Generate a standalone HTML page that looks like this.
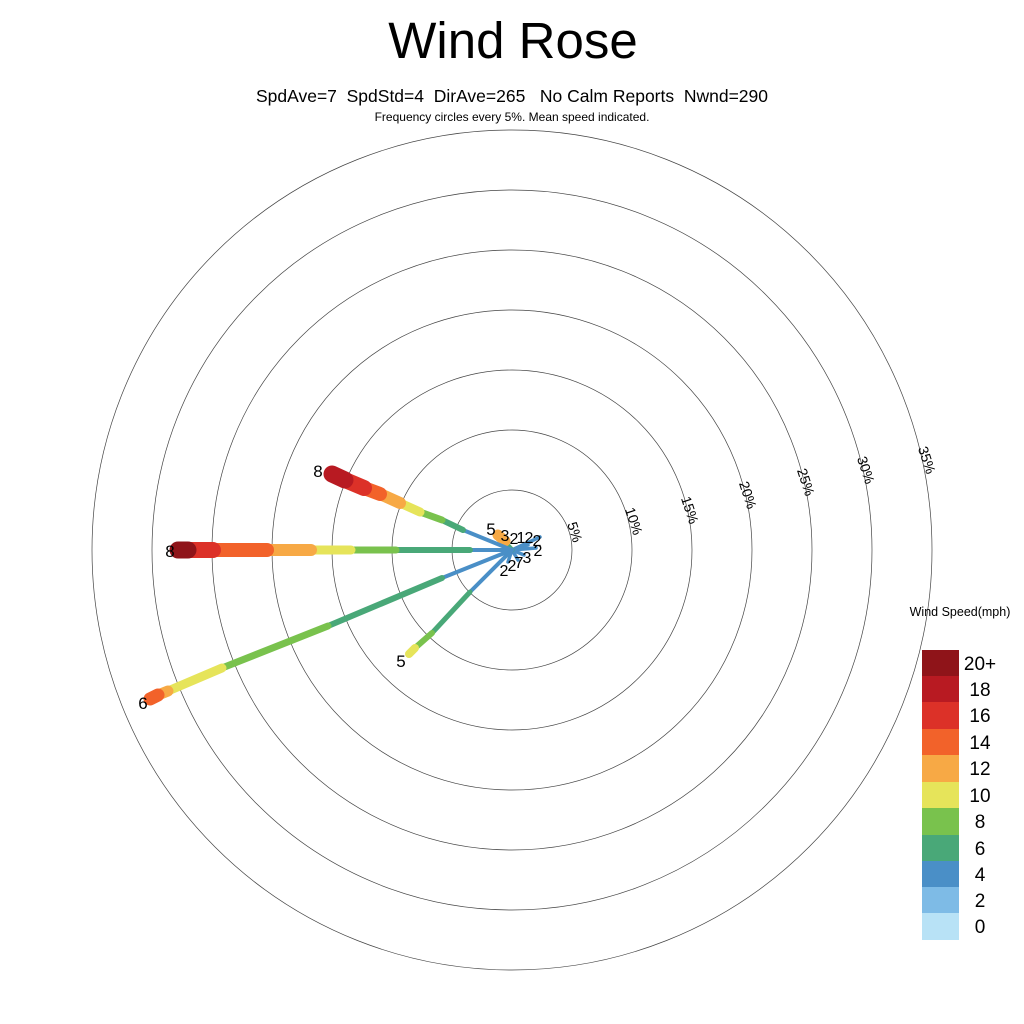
<!DOCTYPE html>
<html><head><meta charset="utf-8"><style>
html,body{margin:0;padding:0;background:#fff;}
svg{display:block;font-family:"Liberation Sans",sans-serif;}
</style></head><body>
<svg width="1024" height="1024" viewBox="0 0 1024 1024" xmlns="http://www.w3.org/2000/svg">
<rect width="1024" height="1024" fill="#fff"/>
<text x="513" y="58" font-size="51" text-anchor="middle">Wind Rose</text>
<text x="512" y="102" font-size="17.5" text-anchor="middle" xml:space="preserve">SpdAve=7  SpdStd=4  DirAve=265   No Calm Reports  Nwnd=290</text>
<text x="512" y="121" font-size="12" text-anchor="middle">Frequency circles every 5%. Mean speed indicated.</text>
<g fill="none" stroke="#444" stroke-width="0.7">
<circle cx="512" cy="550" r="60"/><circle cx="512" cy="550" r="120"/><circle cx="512" cy="550" r="180"/>
<circle cx="512" cy="550" r="240"/><circle cx="512" cy="550" r="300"/><circle cx="512" cy="550" r="360"/><circle cx="512" cy="550" r="420"/>
</g>
<g font-size="14" text-anchor="middle">
<text transform="translate(575,532) rotate(72)" dy="5">5%</text>
<text transform="translate(634,521) rotate(72)" dy="5">10%</text>
<text transform="translate(690,510) rotate(72)" dy="5">15%</text>
<text transform="translate(748,495) rotate(72)" dy="5">20%</text>
<text transform="translate(806,482) rotate(72)" dy="5">25%</text>
<text transform="translate(866,470) rotate(72)" dy="5">30%</text>
<text transform="translate(927,460) rotate(72)" dy="5">35%</text>
</g>
<g stroke-linecap="round" fill="none">
<g stroke="#4a8fc7" stroke-width="3.5">
<line x1="512" y1="550" x2="540" y2="537"/><line x1="512" y1="550" x2="532" y2="541"/>
<line x1="512" y1="550" x2="528" y2="545"/><line x1="512" y1="550" x2="536" y2="548"/>
<line x1="512" y1="550" x2="524" y2="555"/><line x1="512" y1="550" x2="518" y2="560"/>
<line x1="512" y1="550" x2="508" y2="562"/>
</g>
<line x1="512" y1="550" x2="500" y2="537" stroke="#49a878" stroke-width="5"/>
<line x1="505" y1="541" x2="498" y2="535" stroke="#f7a945" stroke-width="11"/>
<!-- West -->
<line x1="512" y1="550" x2="470" y2="550" stroke="#4a8fc7" stroke-width="4"/>
<line x1="470" y1="550" x2="396" y2="550" stroke="#49a878" stroke-width="6"/>
<line x1="396" y1="550" x2="351" y2="550" stroke="#79c24d" stroke-width="7"/>
<line x1="351" y1="550" x2="311" y2="550" stroke="#e6e45a" stroke-width="9"/>
<line x1="311" y1="550" x2="267" y2="550" stroke="#f7a945" stroke-width="12"/>
<line x1="267" y1="550" x2="213" y2="550" stroke="#f2622a" stroke-width="14"/>
<line x1="213" y1="550" x2="188" y2="550" stroke="#dc3128" stroke-width="16"/>
<line x1="188" y1="550" x2="178" y2="550" stroke="#8f1419" stroke-width="17"/>
<!-- WNW -->
<line x1="512" y1="550" x2="463" y2="530" stroke="#4a8fc7" stroke-width="4"/>
<line x1="463" y1="530" x2="442" y2="520" stroke="#49a878" stroke-width="6"/>
<line x1="442" y1="520" x2="420" y2="512" stroke="#79c24d" stroke-width="7"/>
<line x1="420" y1="512" x2="400" y2="503" stroke="#e6e45a" stroke-width="9"/>
<line x1="400" y1="503" x2="380" y2="494" stroke="#f7a945" stroke-width="12"/>
<line x1="380" y1="494" x2="364" y2="488" stroke="#f2622a" stroke-width="14"/>
<line x1="364" y1="488" x2="345" y2="480" stroke="#dc3128" stroke-width="16"/>
<line x1="345" y1="480" x2="332" y2="474" stroke="#b81a22" stroke-width="17"/>
<!-- WSW long -->
<line x1="512" y1="550" x2="442" y2="578" stroke="#4a8fc7" stroke-width="4"/>
<line x1="442" y1="578" x2="328" y2="626" stroke="#49a878" stroke-width="6"/>
<line x1="328" y1="626" x2="222" y2="668" stroke="#79c24d" stroke-width="7"/>
<line x1="222" y1="668" x2="168" y2="691" stroke="#e6e45a" stroke-width="9"/>
<line x1="168" y1="691" x2="158" y2="695" stroke="#f7a945" stroke-width="11"/>
<line x1="158" y1="695" x2="150" y2="699" stroke="#f2622a" stroke-width="13"/>
<!-- SW -->
<line x1="512" y1="550" x2="470" y2="592" stroke="#4a8fc7" stroke-width="4"/>
<line x1="470" y1="592" x2="432" y2="633" stroke="#49a878" stroke-width="5"/>
<line x1="432" y1="633" x2="415" y2="648" stroke="#79c24d" stroke-width="6"/>
<line x1="415" y1="648" x2="409" y2="654" stroke="#e6e45a" stroke-width="8"/>
</g>
<g font-size="17" text-anchor="middle">
<text x="318" y="477">8</text>
<text x="170" y="557">8</text>
<text x="143" y="709">6</text>
<text x="401" y="667">5</text>
<text x="491" y="535">5</text>
<text x="505" y="541" font-size="16">3</text>
<text x="514" y="544" font-size="16">2</text>
<text x="521" y="543" font-size="16">1</text>
<text x="529" y="543" font-size="16">2</text>
<text x="537" y="546" font-size="16">2</text>
<text x="538" y="556" font-size="16">2</text>
<text x="527" y="563" font-size="16">3</text>
<text x="519" y="568" font-size="16">7</text>
<text x="512" y="571" font-size="16">2</text>
<text x="504" y="576" font-size="16">2</text>
</g>
<text x="960" y="616" font-size="12.5" text-anchor="middle">Wind Speed(mph)</text>
<g>
<rect x="922" y="650" width="37" height="26.5" fill="#8f1419"/>
<rect x="922" y="676" width="37" height="26.5" fill="#b81a22"/>
<rect x="922" y="702" width="37" height="27" fill="#dc3128"/>
<rect x="922" y="729" width="37" height="26.5" fill="#f2622a"/>
<rect x="922" y="755" width="37" height="27" fill="#f7a945"/>
<rect x="922" y="782" width="37" height="26.5" fill="#e6e45a"/>
<rect x="922" y="808" width="37" height="27" fill="#79c24d"/>
<rect x="922" y="835" width="37" height="26.5" fill="#49a878"/>
<rect x="922" y="861" width="37" height="26.5" fill="#4a8fc7"/>
<rect x="922" y="887" width="37" height="26.5" fill="#7ebbe6"/>
<rect x="922" y="913" width="37" height="27" fill="#b8e2f6"/>
</g>
<g font-size="19" text-anchor="middle">
<text x="980" y="670">20+</text>
<text x="980" y="696">18</text>
<text x="980" y="722">16</text>
<text x="980" y="749">14</text>
<text x="980" y="775">12</text>
<text x="980" y="802">10</text>
<text x="980" y="828">8</text>
<text x="980" y="855">6</text>
<text x="980" y="881">4</text>
<text x="980" y="907">2</text>
<text x="980" y="933">0</text>
</g>
</svg>
</body></html>
